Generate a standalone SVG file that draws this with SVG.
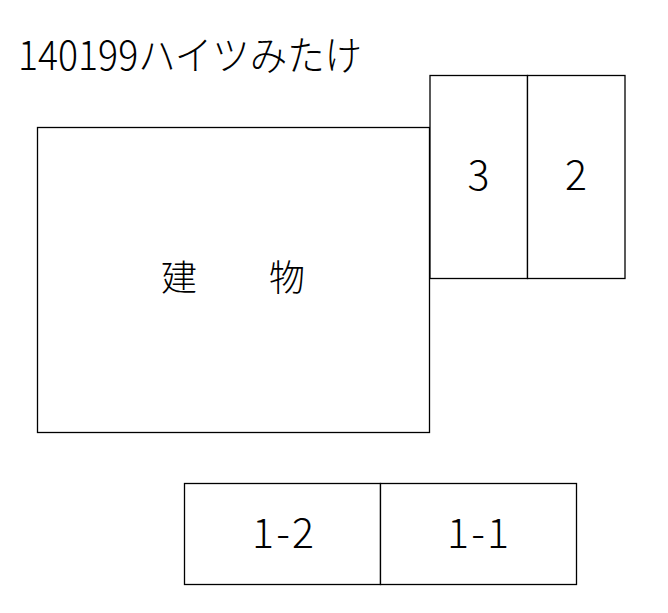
<svg xmlns="http://www.w3.org/2000/svg" width="668" height="613" viewBox="0 0 668 613">
<style>
.box{fill:#fff;stroke:#000;stroke-width:1.3}
.t{font-family:"Noto Sans CJK JP","Noto Sans",sans-serif;font-weight:300;fill:#000}
.lbl{font-size:41px;text-anchor:middle}
</style>
<rect width="668" height="613" fill="#fff"/>
<text class="t" x="18" y="70" font-size="40" textLength="344" lengthAdjust="spacingAndGlyphs">140199ハイツみたけ</text>
<g id="building">
<rect class="box" x="37.5" y="127.5" width="392" height="305"/>
<text class="t" x="233" y="291" font-size="36" text-anchor="middle" xml:space="preserve">建　　物</text>
</g>
<g id="p3">
<rect class="box" x="430" y="75.5" width="97.5" height="203"/>
<text class="t lbl" x="478.5" y="190">3</text>
</g>
<g id="p2">
<rect class="box" x="527.5" y="75.5" width="97.5" height="203"/>
<text class="t lbl" x="576" y="190">2</text>
</g>
<g id="p1-2">
<rect class="box" x="184.5" y="483.5" width="196" height="101"/>
<text class="t lbl" x="283" y="548" textLength="62" lengthAdjust="spacing">1-2</text>
</g>
<g id="p1-1">
<rect class="box" x="380.5" y="483.5" width="196" height="101"/>
<text class="t lbl" x="478" y="548" textLength="62" lengthAdjust="spacing">1-1</text>
</g>
<g id="connectors"></g>
</svg>
